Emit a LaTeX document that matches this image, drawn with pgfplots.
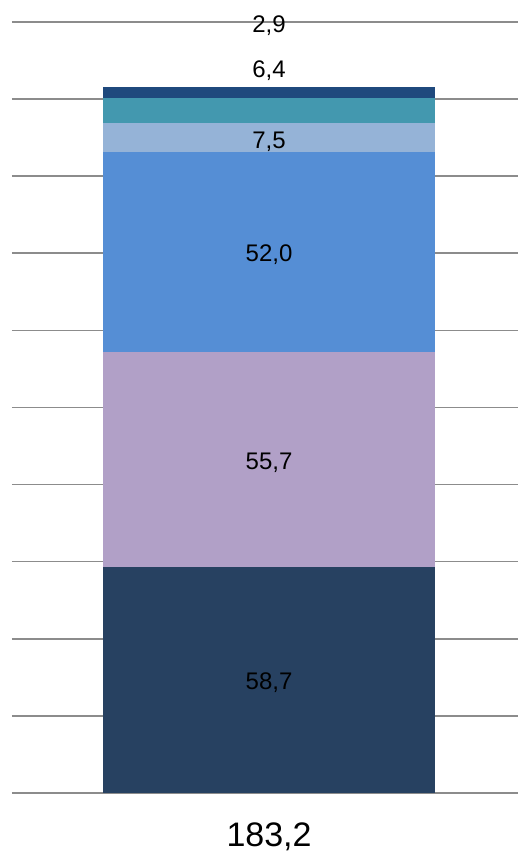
\documentclass[border=0pt]{standalone}
\usepackage{pgfplots}
\pgfplotsset{compat=1.18}
\usepackage{fontspec}
\setmainfont{Liberation Sans}

\definecolor{cNavy}{HTML}{274161}
\definecolor{cLav}{HTML}{B1A0C7}
\definecolor{cBlue}{HTML}{558ED5}
\definecolor{cLight}{HTML}{95B3D7}
\definecolor{cTeal}{HTML}{4398AF}
\definecolor{cDark}{HTML}{1F497D}
\definecolor{gridgray}{HTML}{8C8C8C}

\pgfplotsset{
  frame/.style={
    scale only axis,
    width=506pt, height=771pt,
    xmin=-0.508, xmax=0.492,
    ymin=0, ymax=200,
    clip=false,
  },
}

\begin{document}
\begin{tikzpicture}
\path[use as bounding box] (-12pt,-64pt) rectangle (506pt,793pt);
\begin{axis}[
  frame,
  ybar stacked,
  bar width=332pt,
  ytick={20,40,...,200},
  yticklabels={},
  ymajorgrids,
  grid style={gridgray, line width=1.6pt},
  extra y ticks={0},
  extra y tick labels={},
  extra y tick style={grid style={gridgray, line width=2.6pt}},
  axis line style={draw=none},
  major tick length=0pt,
  xtick={0},
  xticklabels={183{,}2},
  xticklabel style={font=\fontsize{34}{34}\selectfont, inner sep=0pt, anchor=north, yshift=-30pt},
]
\addplot[fill=cNavy, draw=none] coordinates {(0,58.7)};
\addplot[fill=cLav, draw=none] coordinates {(0,55.7)};
\addplot[fill=cBlue, draw=none] coordinates {(0,52.0)};
\addplot[fill=cLight, draw=none] coordinates {(0,7.5)};
\addplot[fill=cTeal, draw=none] coordinates {(0,6.4)};
\addplot[fill=cDark, draw=none] coordinates {(0,2.9)};
\end{axis}
% value labels, at the middle of each segment (two small ones above the bar)
\begin{axis}[
  frame,
  hide axis,
  point meta=explicit symbolic,
  nodes near coords,
  nodes near coords style={font=\fontsize{24}{24}\selectfont, anchor=center, inner sep=0pt, text=black, yshift=-3pt},
]
\addplot[draw=none, mark=none] coordinates {
  (0,29.35) [58,7]
  (0,86.55) [55,7]
  (0,140.4) [52,0]
  (0,169.6) [7,5]
  (0,188.1) [6,4]
  (0,199.9) [2,9]
};
\end{axis}
\end{tikzpicture}
\end{document}
